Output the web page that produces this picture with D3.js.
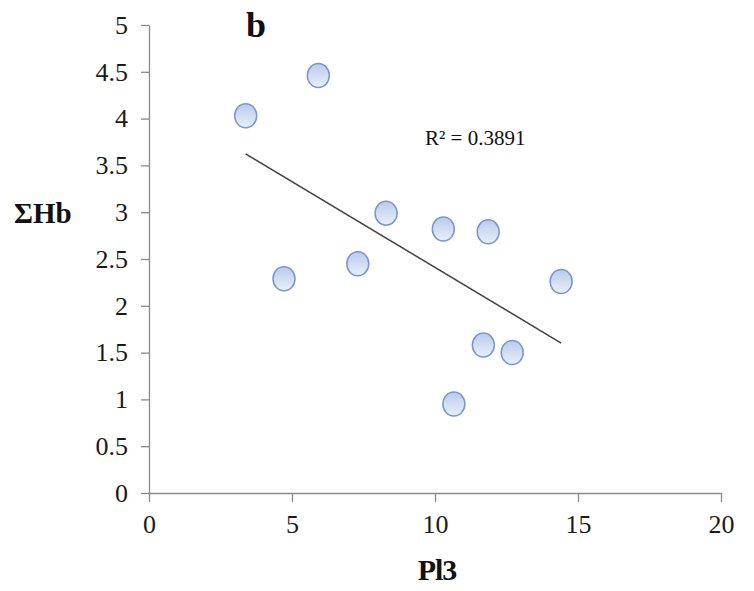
<!DOCTYPE html>
<html lang="en">
  <head>
    <meta charset="UTF-8" />
    <title>ΣHb vs Pl3</title>
    <script src="https://d3js.org/d3.v7.min.js"></script>
    <style>
      body {
        margin: 0;
        background: #fff;
      }
      text {
        font-family: "Liberation Serif", "Times New Roman", serif;
        fill: #111;
      }
      .axis path,
      .axis line {
        stroke: #8a8a8a;
        stroke-width: 1.3;
      }
      .trend {
        stroke: #404040;
        stroke-width: 1.5;
      }
      .dot {
        fill: url(#dotFill);
        stroke: #7896d0;
        stroke-width: 1.5;
      }
    </style>
  </head>
  <body>
    <svg width="754" height="591"></svg>
    <script>
      // values
      var pl3 = [3.38, 5.92, 4.72, 7.3, 8.29, 10.29, 11.86, 14.41, 11.69, 12.7, 10.66];
      var hb = [4.03, 4.46, 2.29, 2.45, 2.99, 2.82, 2.79, 2.26, 1.58, 1.5, 0.95];
      var xTicks = [0, 5, 10, 15, 20];
      var yTicks = [0, 0.5, 1, 1.5, 2, 2.5, 3, 3.5, 4, 4.5, 5];
      var rSquaredLabel = "R² = 0.3891";

      var svg = d3.select("svg");
      var serif = "'Liberation Serif', 'Times New Roman', serif";

      var x = d3.scaleLinear().domain([0, 20]).range([149, 721]);
      var y = d3.scaleLinear().domain([0, 5]).range([493, 25]);

      // gradient for the markers
      var grad = svg
        .append("defs")
        .append("linearGradient")
        .attr("id", "dotFill")
        .attr("x1", 0)
        .attr("y1", 0)
        .attr("x2", 0)
        .attr("y2", 1);
      grad.append("stop").attr("offset", "0%").attr("stop-color", "#b9cbeb");
      grad.append("stop").attr("offset", "100%").attr("stop-color", "#eaf0fa");

      // axes
      var xAxis = svg
        .append("g")
        .attr("class", "axis")
        .attr("transform", "translate(0," + y(0) + ")")
        .call(
          d3
            .axisBottom(x)
            .tickValues(xTicks)
            .tickSize(9)
            .tickSizeOuter(0)
            .tickPadding(13)
            .tickFormat(d3.format("d"))
        );

      var yAxis = svg
        .append("g")
        .attr("class", "axis")
        .attr("transform", "translate(" + x(0) + ",0)")
        .call(
          d3
            .axisLeft(y)
            .tickValues(yTicks)
            .tickSize(8)
            .tickSizeOuter(0)
            .tickPadding(13)
            .tickFormat(function (d) {
              return d3.format("")(d);
            })
        );

      [xAxis, yAxis].forEach(function (g) {
        g.attr("font-family", serif).attr("font-size", 26);
        g.selectAll("text")
          .style("font-family", serif)
          .style("font-size", "26px")
          .style("fill", "#1a1a1a");
      });

      // linear trend line (least squares)
      var mx = d3.mean(pl3),
        my = d3.mean(hb);
      var sxy = d3.sum(pl3, function (v, i) {
        return (v - mx) * (hb[i] - my);
      });
      var sxx = d3.sum(pl3, function (v) {
        return (v - mx) * (v - mx);
      });
      var slope = sxy / sxx,
        intercept = my - slope * mx;
      var ext = d3.extent(pl3);

      svg
        .append("line")
        .attr("class", "trend")
        .attr("x1", x(ext[0]))
        .attr("y1", y(intercept + slope * ext[0]))
        .attr("x2", x(ext[1]))
        .attr("y2", y(intercept + slope * ext[1]));

      // points
      svg
        .append("g")
        .selectAll("ellipse")
        .data(pl3)
        .enter()
        .append("ellipse")
        .attr("class", "dot")
        .attr("cx", function (d) {
          return x(d);
        })
        .attr("cy", function (d, i) {
          return y(hb[i]);
        })
        .attr("rx", 11)
        .attr("ry", 12);

      // labels
      svg
        .append("text")
        .attr("x", 425)
        .attr("y", 145)
        .style("font-size", "21px")
        .text(rSquaredLabel);

      svg
        .append("text")
        .attr("x", 246)
        .attr("y", 37)
        .style("font-size", "36px")
        .style("font-weight", "bold")
        .text("b");

      svg
        .append("text")
        .attr("x", 14)
        .attr("y", 223)
        .style("font-size", "29px")
        .style("font-weight", "bold")
        .text("ΣHb");

      svg
        .append("text")
        .attr("x", 437)
        .attr("y", 580)
        .attr("text-anchor", "middle")
        .style("font-size", "30px")
        .style("font-weight", "bold")
        .style("letter-spacing", "-1px")
        .text("Pl3");
    </script>
  </body>
</html>
